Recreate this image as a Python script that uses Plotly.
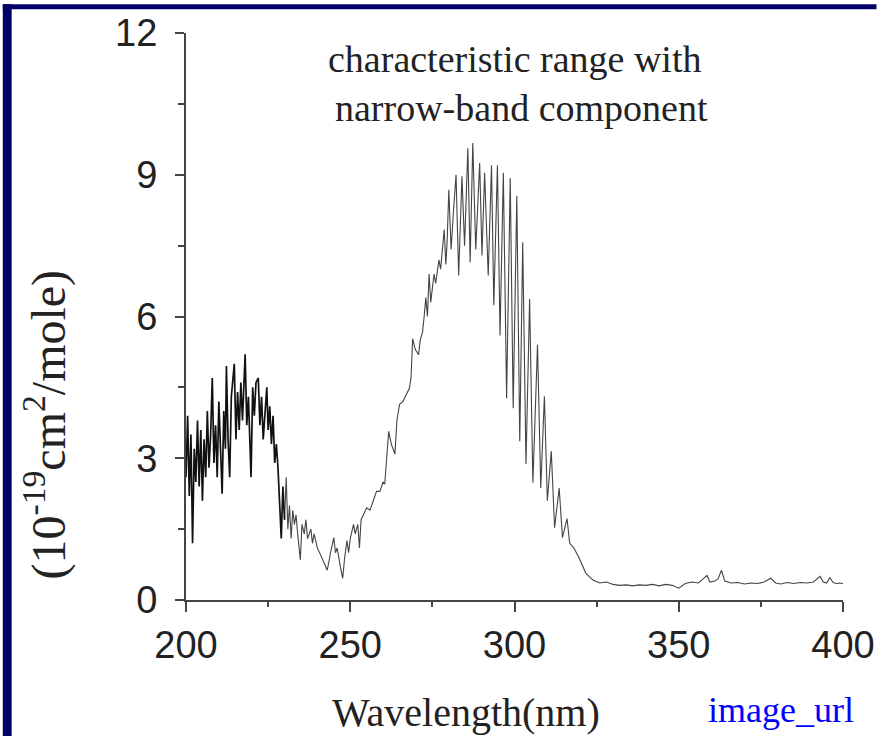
import plotly.graph_objects as go

# ---- data (wavelength in nm, cross-section in 1e-19 cm^2/mole)
wavelength = [
    200, 200.5, 201, 201.5, 202, 202.5, 203, 203.5, 204, 204.5, 205, 205.5, 206, 206.5, 207, 207.5,
    208, 208.5, 209, 209.5, 210, 210.5, 211, 211.5, 212, 212.3, 212.8, 213.3, 213.8, 214.7, 215.2,
    215.7, 216.2, 216.7, 217.2, 218, 218.5, 219, 219.8, 220.3, 220.8, 221.3, 222, 222.5, 223, 223.5,
    224.6, 225, 225.5, 226, 226.5, 227, 227.5, 228, 228.5, 229, 229.5, 230, 230.5, 231, 231.5, 232,
    232.5, 233, 233.5, 234, 234.8, 235.3, 236, 236.5, 237, 238, 238.5, 239, 240, 241, 242, 243, 244,
    245, 245.5, 246, 247, 247.7, 248.3, 249, 249.5, 250, 251, 251.5, 252.3, 252.8, 253.3, 254, 255,
    256, 257, 258, 259, 260, 260.5, 261, 261.7, 262.5, 263.6, 264.2, 265, 266, 267, 268, 268.5, 269,
    269.8, 270.8, 271.3, 272, 272.5, 273, 273.5, 274, 274.5, 275, 275.5, 276, 277, 277.5, 278, 278.6,
    279.1, 279.5, 280, 280.7, 281.4, 282.2, 283, 284, 284.8, 285.8, 286.5, 287.3, 288.2, 289.4, 290.1,
    290.9, 292, 293, 293.7, 294.8, 295.6, 296.6, 297.6, 298.7, 299.6, 300.7, 301.6, 302.5, 303.5,
    304.6, 305.6, 307, 308, 309.1, 310, 311.2, 312.2, 313.6, 314.6, 316, 316.8, 318, 319.6, 320.5,
    321.7, 323, 324, 326, 328, 330, 332, 334, 336, 338, 340, 342, 344, 346, 348, 350, 351, 352, 354,
    356, 357, 358.6, 359.5, 361, 362, 363, 364, 366, 368, 370, 372, 374, 376, 378, 379.5, 381, 383,
    385, 387, 389, 391, 393, 394, 395, 396, 397, 398, 399, 400,
]
cross_section = [
    2.6, 3.9, 2.2, 3.5, 1.2, 3.2, 2.5, 3.8, 2.4, 3.6, 2.1, 3.4, 2.6, 4.0, 2.8, 3.5,
    4.7, 2.9, 3.7, 2.6, 4.2, 3.0, 2.25, 4.0, 3.2, 4.95, 3.4, 2.6, 4.3, 5.0, 3.4,
    4.4, 3.6, 4.6, 3.8, 5.2, 3.7, 4.3, 2.6, 4.5, 3.9, 4.6, 4.7, 3.7, 4.3, 3.4,
    4.5, 3.6, 4.1, 3.3, 3.9, 2.9, 3.3, 2.8, 2.0, 1.3, 2.4, 1.7, 2.6, 1.5, 2.0, 1.3,
    1.9, 1.6, 1.8, 1.4, 0.85, 1.6, 1.4, 1.7, 1.3, 1.5, 1.2, 1.4, 1.1, 0.95, 0.8, 0.63, 1.0,
    1.32, 1.0, 1.1, 0.7, 0.46, 0.9, 1.26, 1.0, 1.3, 1.6, 1.4, 1.6, 1.1, 1.7, 1.8, 1.95,
    1.9, 2.1, 2.3, 2.3, 2.5, 2.45, 3.0, 3.57, 3.3, 3.09, 3.8, 4.14, 4.2, 4.35, 4.48, 4.7, 5.53,
    5.3, 5.19, 5.5, 5.67, 6.0, 6.4, 6.0, 6.9, 6.3, 6.6, 6.9, 6.7, 7.2, 7.0, 7.4, 7.84,
    7.1, 7.6, 8.68, 7.42, 8.2, 9.0, 6.87, 8.97, 7.5, 9.56, 7.15, 9.67, 7.42, 9.25, 7.29,
    9.04, 6.87, 9.2, 6.24, 9.2, 5.6, 9.04, 4.27, 8.93, 4.06, 8.55, 3.36, 7.57, 2.88,
    6.37, 2.48, 5.4, 2.37, 4.31, 2.1, 3.15, 1.53, 2.37, 1.32, 1.72, 1.2, 1.11, 0.9, 0.75,
    0.57, 0.48, 0.42, 0.36, 0.38, 0.33, 0.31, 0.32, 0.30, 0.32, 0.31, 0.33, 0.30, 0.33, 0.31, 0.25, 0.3, 0.35, 0.38,
    0.36, 0.42, 0.52, 0.38, 0.4, 0.45, 0.63, 0.4, 0.36, 0.37, 0.34, 0.36, 0.35, 0.38, 0.46, 0.36, 0.34, 0.37,
    0.35, 0.37, 0.36, 0.38, 0.5, 0.38, 0.36, 0.47, 0.37, 0.35, 0.36, 0.35,
]

x_tick_vals = [200, 250, 300, 350, 400]
x_tick_text = ["200", "250", "300", "350", "400"]
y_tick_vals = [0, 3, 6, 9, 12]
y_tick_text = ["0", "3", "6", "9", "12"]

note_line1 = "characteristic range with"
note_line2 = "narrow-band component"
x_title = "Wavelength(nm)"
y_title = "(10<sup>-19</sup>cm<sup>2</sup>/mole)"
corner_label = "image_url"

SERIF = "Liberation Serif, Times New Roman, serif"
SANS = "Liberation Sans, Arial, Helvetica, sans-serif"
NAVY = "#000066"
AXIS = "#444444"

# the dense short-wave band is drawn heavier, as in the reference
split = wavelength.index(230)

fig = go.Figure()
fig.add_trace(go.Scatter(
    x=wavelength[split:], y=cross_section[split:], mode="lines",
    line=dict(color="#444444", width=1.1),
    showlegend=False, hoverinfo="skip",
))
fig.add_trace(go.Scatter(
    x=wavelength[:split + 1], y=cross_section[:split + 1], mode="lines",
    line=dict(color="#111111", width=1.7),
    showlegend=False, hoverinfo="skip",
))

W, H = 887, 737
L, R, T, B = 186, 34, 29, 137
pw, ph = W - L - R, H - T - B

def px(xp):
    return (xp - L) / pw

def py(yp):
    return (H - B - yp) / ph

fig.update_layout(
    width=W, height=H,
    margin=dict(l=L, r=R, t=T, b=B, pad=0),
    paper_bgcolor="white", plot_bgcolor="white",
    xaxis=dict(
        range=[200, 400], tickmode="array", tickvals=x_tick_vals, ticktext=x_tick_text,
        ticks="outside", ticklen=10, tickwidth=2, tickcolor=AXIS,
        minor=dict(dtick=25, tick0=200, ticks="outside", ticklen=5, tickwidth=2, tickcolor=AXIS),
        showline=True, linecolor=AXIS, linewidth=2, showgrid=False, zeroline=False,
        tickfont=dict(family=SANS, size=38, color="#222222"),
        ticklabelstandoff=0,
    ),
    yaxis=dict(
        range=[0, 12], tickmode="array", tickvals=y_tick_vals, ticktext=y_tick_text,
        ticks="outside", ticklen=9, tickwidth=2, tickcolor=AXIS,
        minor=dict(dtick=1.5, tick0=0, ticks="outside", ticklen=6, tickwidth=2, tickcolor=AXIS),
        showline=True, linecolor=AXIS, linewidth=2, showgrid=False, zeroline=False,
        tickfont=dict(family=SANS, size=38, color="#222222"),
        ticklabelstandoff=10,
    ),
    shapes=[
        dict(type="rect", xref="paper", yref="paper", x0=px(0), x1=px(9), y0=py(H), y1=py(0),
             fillcolor=NAVY, line=dict(width=0), layer="above"),
        dict(type="rect", xref="paper", yref="paper", x0=px(0), x1=px(W), y0=py(5), y1=py(0),
             fillcolor=NAVY, line=dict(width=0), layer="above"),
    ],
    annotations=[
        dict(text=note_line1, xref="paper", yref="paper", x=px(519), y=py(55),
             showarrow=False, xanchor="center", yanchor="middle",
             font=dict(family=SERIF, size=38, color="#222222")),
        dict(text=note_line2, xref="paper", yref="paper", x=px(527), y=py(105),
             showarrow=False, xanchor="center", yanchor="middle",
             font=dict(family=SERIF, size=38, color="#222222")),
        dict(text=x_title, xref="paper", yref="paper", x=px(470), y=py(713),
             showarrow=False, xanchor="center", yanchor="middle",
             font=dict(family=SERIF, size=40, color="#222222")),
        dict(text=y_title, xref="paper", yref="paper", x=px(43), y=py(424),
             showarrow=False, xanchor="center", yanchor="middle", textangle=-90,
             font=dict(family=SERIF, size=48, color="#222222")),
        dict(text=corner_label, xref="paper", yref="paper", x=px(790), y=py(711),
             showarrow=False, xanchor="center", yanchor="middle",
             font=dict(family=SERIF, size=36, color="#0000ff")),
    ],
)

fig.write_html("out.html", config={"displayModeBar": False})
